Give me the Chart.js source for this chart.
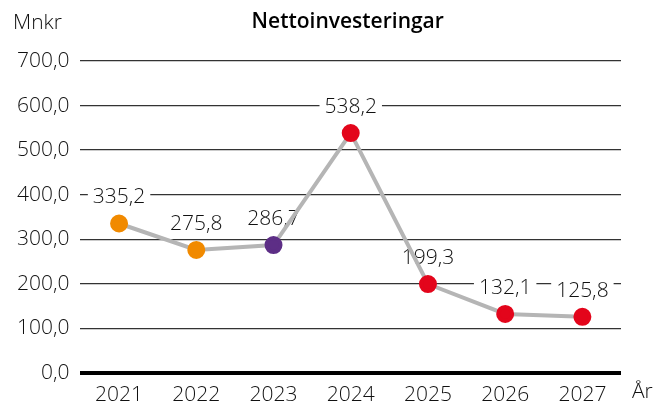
<!DOCTYPE html>
<html>
<head>
<meta charset="utf-8">
<script src="https://cdn.jsdelivr.net/npm/chart.js@4"></script>
<style>
  html, body { margin: 0; padding: 0; background: #fff; }
  #wrap { width: 655px; height: 403px; position: relative; }
</style>
</head>
<body>
<div id="wrap"><canvas id="myChart" width="655" height="403"></canvas></div>
<script>
// Chart data
const years = ['2021', '2022', '2023', '2024', '2025', '2026', '2027'];
const nettoinvesteringar = [335.2, 275.8, 286.7, 538.2, 199.3, 132.1, 125.8];
const pointColors = ['#f18a00', '#f18a00', '#5d2e86', '#e3051b', '#e3051b', '#e3051b', '#e3051b'];
const yTicks = [0, 100, 200, 300, 400, 500, 600, 700];

const fontFamily = 'Open Sans';
const labelFont = '300 21px "Open Sans"';

function fmt(v) {
  return v.toFixed(1).replace('.', ',');
}

// draws value labels (white box behind them) before the line goes on top
const valueLabels = {
  id: 'valueLabels',
  beforeDatasetsDraw(chart) {
    const ctx = chart.ctx;
    const meta = chart.getDatasetMeta(0);
    ctx.save();
    ctx.font = labelFont;
    ctx.textAlign = 'center';
    ctx.textBaseline = 'middle';
    meta.data.forEach(function(pt, i) {
      const txt = fmt(nettoinvesteringar[i]);
      const w = ctx.measureText(txt).width + 10;
      const y = pt.y - 26;
      ctx.fillStyle = '#fff';
      ctx.fillRect(pt.x - w / 2, y - 11, w, 22);
      ctx.fillStyle = '#111';
      ctx.fillText(txt, pt.x, y);
    });
    ctx.restore();
  }
};

// extra texts: unit, title and x axis name
const extraText = {
  id: 'extraText',
  afterDraw(chart) {
    const ctx = chart.ctx;
    const area = chart.chartArea;
    ctx.save();
    ctx.textBaseline = 'middle';
    ctx.fillStyle = '#111';
    ctx.font = labelFont;
    ctx.textAlign = 'left';
    ctx.fillText('Mnkr', 13, 23);
    ctx.fillText('År', 632, 392);
    ctx.font = '600 21px "Open Sans"';
    ctx.textAlign = 'center';
    ctx.fillStyle = '#000';
    ctx.fillText('Nettoinvesteringar', (area.left + area.right) / 2 - 3, 22);
    ctx.restore();
  }
};

let ctx = document.getElementById('myChart').getContext('2d');
let chart = new Chart(ctx, {
  type: 'line',
  data: {
    labels: years,
    datasets: [{
      data: nettoinvesteringar,
      borderColor: '#b5b5b5',
      borderWidth: 4,
      pointBackgroundColor: pointColors,
      pointBorderColor: pointColors,
      pointRadius: 7,
      pointHoverRadius: 7,
      tension: 0
    }]
  },
  options: {
    responsive: false,
    animation: false,
    layout: { padding: { top: 61, right: 34, left: 6, bottom: -7 } },
    plugins: {
      legend: { display: false },
      title: { display: false },
      tooltip: { enabled: false }
    },
    scales: {
      x: {
        offset: true,
        grid: { display: false },
        border: { display: false },
        ticks: {
          color: '#111',
          font: { family: fontFamily, size: 21, weight: '300' },
          padding: 2
        }
      },
      y: {
        min: 0,
        max: 700,
        afterBuildTicks(axis) {
          axis.ticks = yTicks.map(function(v) { return { value: v }; });
        },
        border: { display: false },
        grid: {
          drawTicks: false,
          color: function(c) { return c.tick.value === 0 ? '#000' : '#333'; },
          lineWidth: function(c) { return c.tick.value === 0 ? 4 : 1.2; }
        },
        ticks: {
          color: '#111',
          padding: 11,
          font: { family: fontFamily, size: 21, weight: '300' },
          callback: function(v) { return fmt(v); }
        }
      }
    }
  },
  plugins: [valueLabels, extraText]
});
</script>
</body>
</html>
